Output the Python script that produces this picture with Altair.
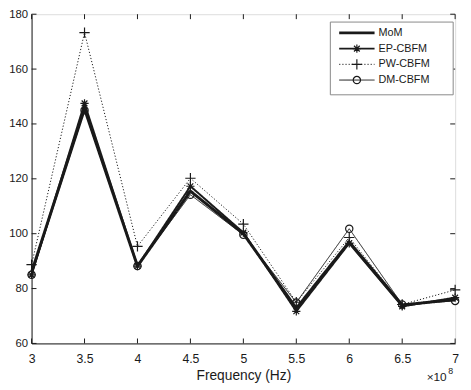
import altair as alt
import pandas as pd

# ---- data ----
freq = [3, 3.5, 4, 4.5, 5, 5.5, 6, 6.5, 7]
mom = [86.0, 145.5, 88.2, 115.5, 100.0, 72.8, 97.0, 74.0, 76.0]
ep_cbfm = [85.0, 147.5, 88.2, 117.3, 100.4, 71.7, 96.5, 73.5, 76.7]
pw_cbfm = [88.7, 173.3, 95.4, 120.2, 103.5, 75.0, 98.6, 74.2, 79.5]
dm_cbfm = [85.0, 145.0, 88.2, 114.2, 99.6, 74.9, 101.8, 74.2, 75.5]

series_names = ["MoM", "EP-CBFM", "PW-CBFM", "DM-CBFM"]
series_values = [mom, ep_cbfm, pw_cbfm, dm_cbfm]

x_ticks = [3, 3.5, 4, 4.5, 5, 5.5, 6, 6.5, 7]
y_ticks = [60, 80, 100, 120, 140, 160, 180]

W, H = 431, 335
FONT = "Liberation Sans"
INK = "#1a1a1a"

ASTERISK = "M-1,0L1,0M0,-1L0,1M-0.7,-0.7L0.7,0.7M-0.7,0.7L0.7,-0.7"
PLUS = "M-1,0L1,0M0,-1L0,1"

styles = {
    "MoM": dict(width=3.0, dash=[1, 0], shape=None, size=0),
    "EP-CBFM": dict(width=2.0, dash=[1, 0], shape=ASTERISK, size=70),
    "PW-CBFM": dict(width=1.0, dash=[1.2, 2], shape=PLUS, size=110),
    "DM-CBFM": dict(width=1.0, dash=[1, 0], shape="circle", size=55),
}

xs = alt.Scale(domain=[3, 7], nice=False, zero=False)
ys = alt.Scale(domain=[60, 180], nice=False, zero=False)

x_axis = alt.Axis(values=x_ticks, format="~g", ticks=False, grid=False, title="Frequency (Hz)",
                  labelPadding=9, titlePadding=4, labelFont=FONT, labelFontSize=12.5,
                  titleFont=FONT, titleFontSize=14, titleFontWeight="normal",
                  labelColor=INK, titleColor=INK, domainColor=INK, labelFlush=False)
y_axis = alt.Axis(values=y_ticks, ticks=False, grid=False, title=None, labelPadding=4,
                  labelFont=FONT, labelFontSize=11.5, labelColor=INK, domainColor=INK)


def X(field):
    return alt.X(field, scale=xs, axis=x_axis)


def Y(field):
    return alt.Y(field, scale=ys, axis=y_axis)


layers = []
for name, vals in zip(series_names, series_values):
    st = styles[name]
    df = pd.DataFrame({"freq": freq, "value": vals, "series": name})
    base = alt.Chart(df)
    layers.append(base.mark_line(color=INK, strokeWidth=st["width"], strokeDash=st["dash"]).encode(
        x=X("freq:Q"), y=Y("value:Q")))
    if st["shape"]:
        layers.append(base.mark_point(shape=st["shape"], size=st["size"], filled=False, color=INK,
                                      strokeWidth=1.2, opacity=1).encode(
            x=X("freq:Q"), y=Y("value:Q")))

# inward ticks (MATLAB style) on all four sides
xt = alt.Chart(pd.DataFrame({"freq": x_ticks}))
yt = alt.Chart(pd.DataFrame({"value": y_ticks}))
layers += [
    xt.mark_rule(color=INK, strokeWidth=1).encode(x=X("freq:Q"), y=alt.value(H), y2=alt.value(H - 5)),
    xt.mark_rule(color=INK, strokeWidth=1).encode(x=X("freq:Q"), y=alt.value(0), y2=alt.value(5)),
    yt.mark_rule(color=INK, strokeWidth=1).encode(y=Y("value:Q"), x=alt.value(0), x2=alt.value(5)),
    yt.mark_rule(color=INK, strokeWidth=1).encode(y=Y("value:Q"), x=alt.value(W), x2=alt.value(W - 5)),
]

# legend box
lx0, lx1, ly0 = 304, 429, 8
layers.append(
    alt.Chart(pd.DataFrame({"a": [0]})).mark_rect(fill="white", stroke="#888", strokeWidth=1).encode(
        x=alt.value(lx0), x2=alt.value(lx1), y=alt.value(ly0), y2=alt.value(ly0 + 74))
)
for i, name in enumerate(series_names):
    st = styles[name]
    yy = ly0 + 11 + 16 * i
    ld = alt.Chart(pd.DataFrame({"label": [name]}))
    layers.append(ld.mark_rule(color=INK, strokeWidth=st["width"], strokeDash=st["dash"]).encode(
        x=alt.value(lx0 + 9), x2=alt.value(lx0 + 45), y=alt.value(yy)))
    if st["shape"]:
        layers.append(ld.mark_point(shape=st["shape"], size=st["size"], filled=False, color=INK,
                                    strokeWidth=1.2, opacity=1).encode(
            x=alt.value(lx0 + 27), y=alt.value(yy)))
    layers.append(ld.mark_text(align="left", baseline="middle", font=FONT, fontSize=11, color=INK).encode(
        x=alt.value(lx0 + 49), y=alt.value(yy), text="label:N"))

# x10^8 exponent label
layers.append(alt.Chart(pd.DataFrame({"e": ["×10"]})).mark_text(
    align="left", baseline="alphabetic", font=FONT, fontSize=12, color=INK).encode(
    x=alt.value(W - 29), y=alt.value(H + 38), text="e:N"))
layers.append(alt.Chart(pd.DataFrame({"e": ["8"]})).mark_text(
    align="left", baseline="alphabetic", font=FONT, fontSize=9, color=INK).encode(
    x=alt.value(W - 7), y=alt.value(H + 31), text="e:N"))

chart = alt.layer(*layers).properties(
    width=W, height=H,
    autosize=alt.AutoSizeParams(type="none"),
    padding={"left": 24, "top": 3, "right": 8, "bottom": 40},
).configure_view(stroke="#777", strokeWidth=1).configure(background="white")

chart.save("out.html", embed_options={"renderer": "svg", "actions": False})
